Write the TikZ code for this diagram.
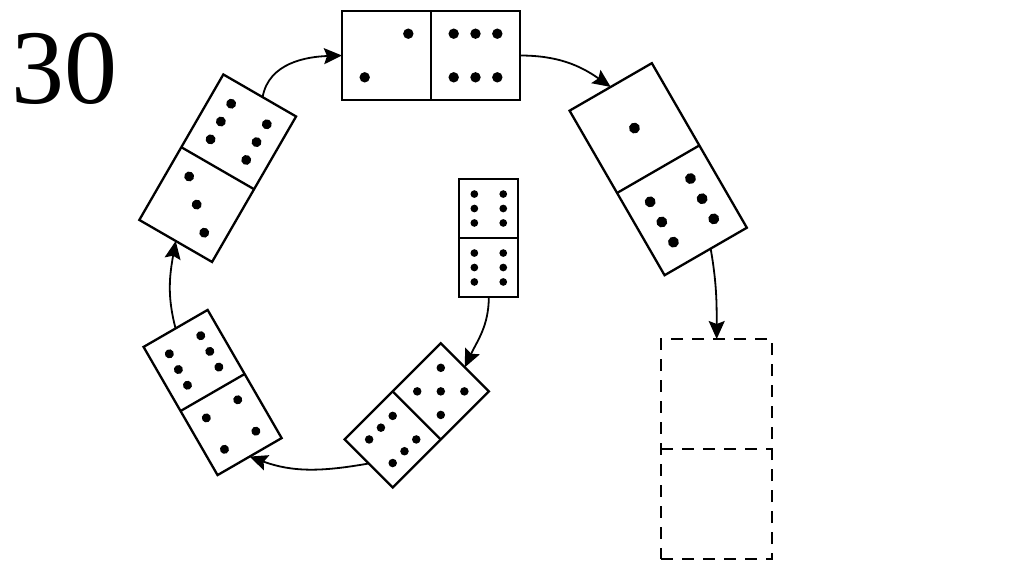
\documentclass[tikz,border=0pt]{standalone}
\usepackage{fontspec}
\setmainfont{Liberation Serif}
\usetikzlibrary{arrows.meta,calc}
\tikzset{
  dom/.style={draw, line width=2.3pt, inner sep=0pt, outer sep=0pt, fill=white},
  divl/.style={line width=2.3pt},
  dashdom/.style={draw, line width=2.3pt, inner sep=0pt, outer sep=0pt, dash pattern=on 12pt off 9pt},
  conn/.style={line width=1.8pt, -{Stealth[length=18pt,width=16pt,inset=3pt]}},
}
\newcommand{\dominoX}[6]{%
  \node[dom, minimum width=#4pt, minimum height=2*#4pt, rotate=#3] (#1) at (#2) {};
  \draw[divl] (#1.west) -- (#1.east);
  \begin{scope}[shift={(#2)}, rotate=#3]
    \foreach \a/\b in {#5} \fill ({(\a)*0.245*#4}, {0.5*#4+(\b)*0.245*#4}) circle[radius=0.045*#4pt+1.2pt];
    \foreach \a/\b in {#6} \fill ({(\a)*0.245*#4}, {-0.5*#4+(\b)*0.245*#4}) circle[radius=0.045*#4pt+1.2pt];
  \end{scope}}
\begin{document}
\begin{tikzpicture}[x=1pt,y=1pt]
\useasboundingbox[fill=white] (0,-574) rectangle (1024,0);
\node[anchor=base west, inner sep=0pt, font=\fontsize{106}{110}\selectfont] (num) at (11,-103) {30};
% dominoes
\dominoX{T}{431,-55.5}{90}{89}{1/-1,-1/1}{-1/-1,-1/0,-1/1,1/-1,1/0,1/1}
\dominoX{TR}{658.2,-169.2}{30}{95}{0/0}{-1/-1,-1/0,-1/1,1/-1,1/0,1/1}
\dominoX{TL}{217.7,-168.2}{-30}{84}{-1/-1,-1/0,-1/1,1/-1,1/0,1/1}{-1/1,0/0,1/-1}
\dominoX{C}{488.8,-238}{0}{59}{-1/-1,-1/0,-1/1,1/-1,1/0,1/1}{-1/-1,-1/0,-1/1,1/-1,1/0,1/1}
\dominoX{BL}{212.6,-392.5}{30}{74}{-1/-1,-1/0,-1/1,1/-1,1/0,1/1}{-1/-1,-1/1,1/-1,1/1}
\dominoX{BC}{416.75,-415.4}{-45}{68}{0/0,1/1,1/-1,-1/1,-1/-1}{-1/-1,-1/0,-1/1,1/-1,1/0,1/1}
% dashed empty domino
\node[dashdom, minimum width=111pt, minimum height=220pt] (D) at (716.7,-449) {};
\draw[line width=2.3pt, dash pattern=on 12pt off 9pt] (D.west) -- (D.east);
% connectors
\draw[conn] ($(TL.north)!0.08!(TL.north east)$) to[out=80,in=182] (T.north);
\draw[conn] (T.south) to[out=0,in=145] (TR.north);
\draw[conn] ($(TR.south)!0.12!(TR.south east)$) to[out=-80,in=90] (D.north);
\draw[conn] (C.south) to[out=-90,in=65] (BC.north);
\draw[conn] (BC.south) to[out=190,in=-20] (BL.south);
\draw[conn] (BL.north) to[out=105,in=-100] (TL.south);
\end{tikzpicture}
\end{document}
